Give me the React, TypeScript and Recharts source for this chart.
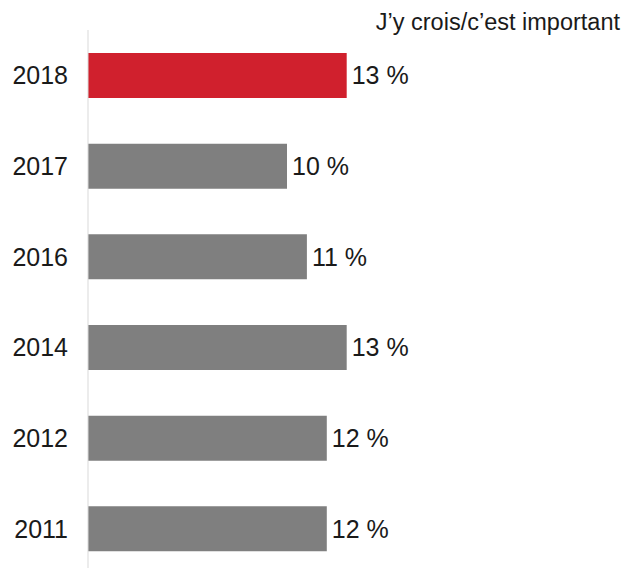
import React from 'react';
import { BarChart, Bar, XAxis, YAxis, Cell, LabelList } from 'recharts';

const years = ['2018', '2017', '2016', '2014', '2012', '2011'];
const values = [13, 10, 11, 13, 12, 12];
const highlightYear = '2018';
const title = 'J\u2019y crois/c\u2019est important';

const RED = '#d0202d';
const GREY = '#7f7f7f';
const FONT = '"Liberation Sans", Arial, sans-serif';

export default function App() {
  const dados = years.map((y, i) => ({ annee: y, valeur: values[i] }));

  return (
    <div style={{ position: 'absolute', left: 0, top: 0, width: 629, height: 568, overflow: 'hidden', background: '#fff' }}>
      <BarChart
        width={629}
        height={574}
        data={dados}
        layout="vertical"
        margin={{ top: 30, right: 143, bottom: 0, left: 0 }}
        barCategoryGap={0}
      >
        <XAxis type="number" domain={[0, 20]} hide />
        <YAxis
          type="category"
          dataKey="annee"
          width={88}
          tickLine={false}
          tickSize={0}
          tickMargin={20}
          axisLine={{ stroke: '#d9d9d9', strokeWidth: 1 }}
          tick={{ fill: '#1a1a1a', fontSize: 25, fontFamily: FONT }}
        />
        <Bar dataKey="valeur" barSize={45} isAnimationActive={false}>
          {dados.map(d => (
            <Cell key={d.annee} fill={d.annee === highlightYear ? RED : GREY} />
          ))}
          <LabelList
            dataKey="valeur"
            position="right"
            offset={5}
            formatter={(v: number) => `${v} %`}
            style={{ fill: '#1a1a1a', fontSize: 25, fontFamily: FONT }}
          />
        </Bar>
        <text x={620} y={30} textAnchor="end" fill="#1a1a1a" fontSize={23.5} fontFamily={FONT}>
          {title}
        </text>
      </BarChart>
    </div>
  );
}
